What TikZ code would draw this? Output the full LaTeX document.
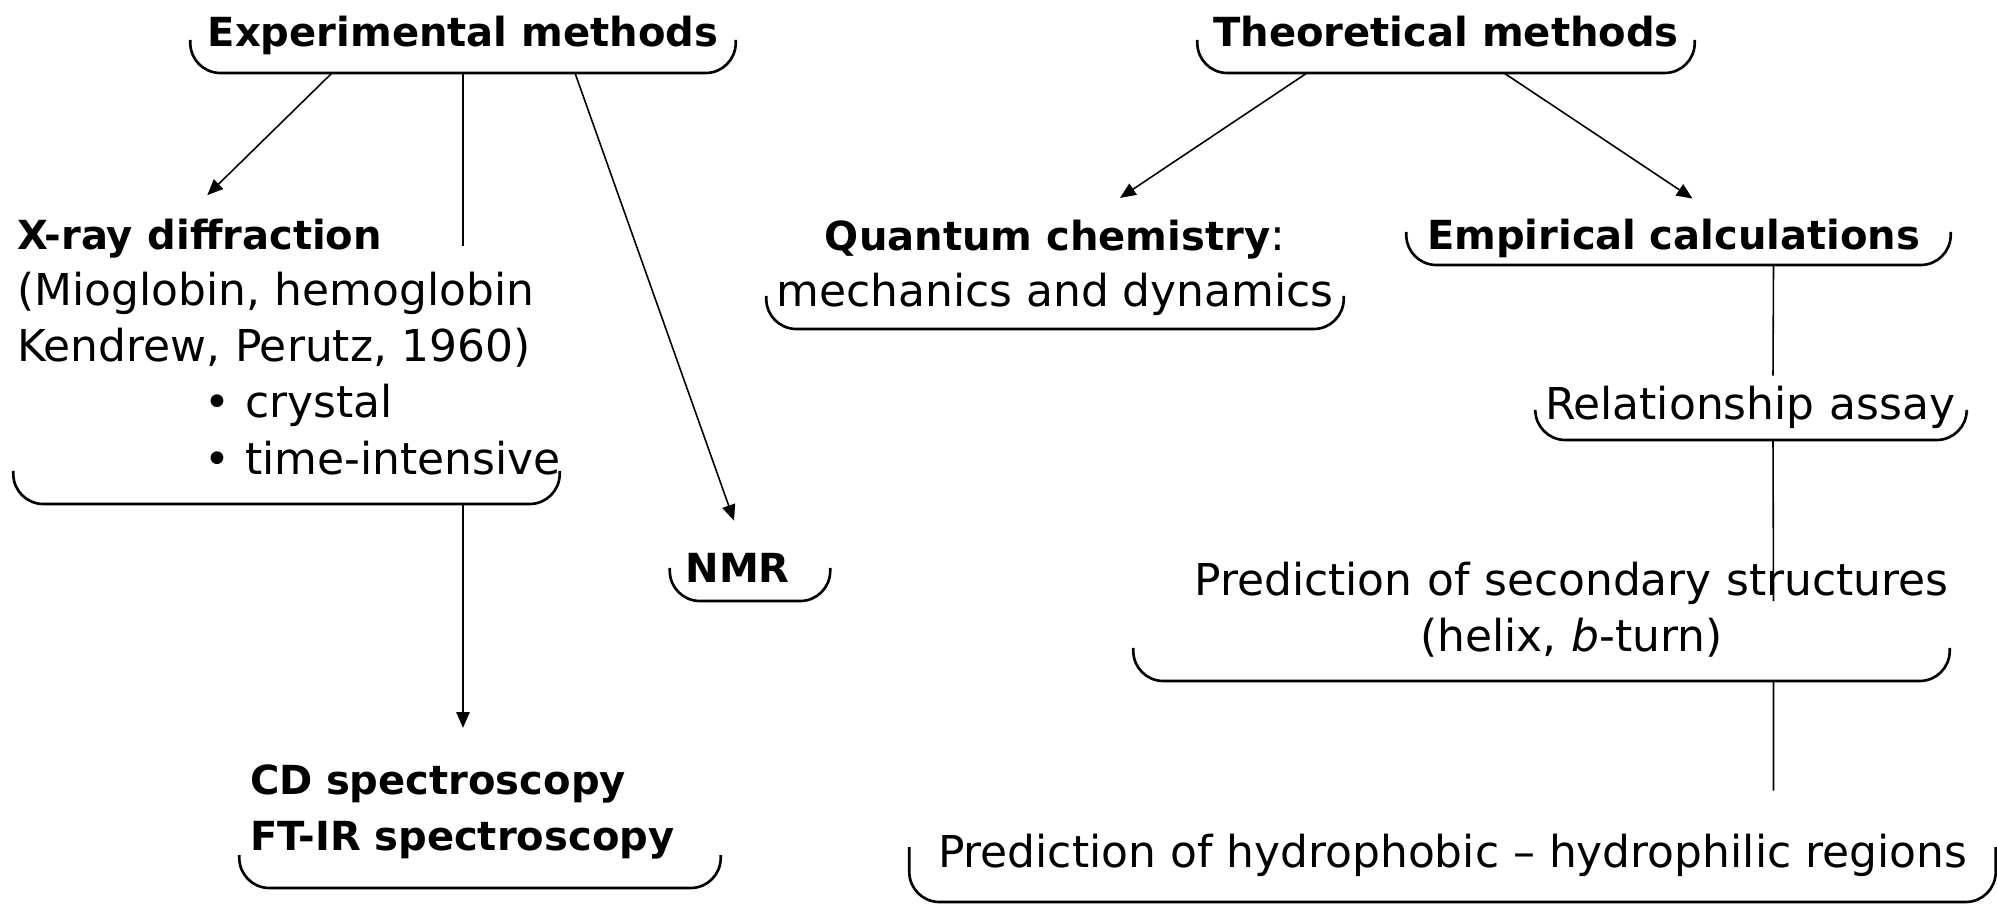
\documentclass[tikz,border=0pt]{standalone}
\usepackage{fontspec}
\setmainfont{DejaVu Sans}
\usetikzlibrary{arrows.meta,positioning,calc}
\newcommand{\bhead}{\fontsize{11.4pt}{16pt}\selectfont\bfseries}
\newcommand{\ubrace}[2][3.3mm]{\draw[brk] ([yshift=#1]#2.south west) -- (#2.south west) -- (#2.south east) -- ([yshift=#1]#2.south east);}

\begin{document}
\begin{tikzpicture}[
  font=\fontsize{12.5pt}{16pt}\selectfont,
  entry/.style={inner sep=0pt, anchor=south},
  brk/.style={line width=0.75pt, rounded corners=3mm},
  ln/.style={line width=0.45pt},
  ar/.style={ln, -{Triangle[length=4.5pt,width=3.8pt]}}
]
\useasboundingbox (0,0) rectangle (19.97,-9.04);
% experimental side
\node[entry, minimum width=5.44cm, text depth=2.6mm, font=\bhead] (exp) at (4.63,-0.73) {Experimental methods};
\node[entry, text width=5.39cm, inner xsep=0.3mm, align=left, text depth=25.4mm] (xray) at (2.865,-5.04)
  {{\bhead X-ray diffraction}\\(Mioglobin, hemoglobin\\Kendrew, Perutz, 1960)\\\mbox{\hspace*{1.88cm}• crystal}\\\mbox{\hspace*{1.88cm}• time-intensive}};
\node[entry, text width=4.60cm, inner xsep=1mm, align=left, text depth=9.3mm, font=\bhead] (cd) at (4.80,-8.88)
  {CD spectroscopy\\FT-IR spectroscopy};
\node[entry, text width=1.29cm, inner xsep=1.5mm, align=left, text height=6.1mm, text depth=1.8mm, font=\bhead] (nmr) at (7.50,-6.01) {NMR};
% theoretical side
\node[entry, minimum width=4.96cm, text depth=2.6mm, font=\bhead] (theo) at (14.46,-0.73) {Theoretical methods};
\node[entry, minimum width=5.76cm, align=center, text depth=2.2mm] (quant) at (10.55,-3.29)
  {{\bhead Quantum chemistry}:\\mechanics and dynamics};
\node[entry, text width=5.03cm, inner xsep=2mm, align=left, text height=5mm, text depth=1.5mm, font=\bhead] (emp) at (16.785,-2.65) {Empirical calculations};
\node[entry, text width=4.12cm, inner xsep=0.9mm, align=left, text height=4.3mm, text depth=2mm] (rel) at (17.51,-4.40) {Relationship assay};
\node[entry, text width=8.15cm, align=center, text depth=8.5mm] (sec) at (15.415,-6.81)
  {\hspace*{6mm}Prediction of secondary structures\\\hspace*{6mm}(helix, \textit{b}-turn)};
\node[entry, minimum width=10.85cm, text height=7.6mm, text depth=3.4mm] (hyd) at (14.525,-9.02)
  {Prediction of hydrophobic – hydrophilic regions};
% brackets
\ubrace{exp} \ubrace{xray} \ubrace{cd} \ubrace{nmr}
\ubrace{theo} \ubrace{quant} \ubrace{emp} \ubrace[2.7mm]{rel}
\ubrace{sec} \ubrace[5.5mm]{hyd}
% connectors
\draw[ar] ([xshift=-13.1mm]exp.south) -- ([xshift=19.4mm,yshift=2.3mm]xray.north west);
\draw[ln] (exp.south) -- ($(exp.south |- xray.north)+(0,-0.28)$);
\draw[ar] ([xshift=11.2mm]exp.south) -- ([xshift=-1.6mm]nmr.north);
\draw[ar] (exp.south |- xray.south) -- ($(exp.south |- cd.north)+(0,0.36)$);
\draw[ar] ([xshift=-13.9mm]theo.south) -- ($(quant.north)+(0.65,0.21)$);
\draw[ar] ([xshift=5.8mm]theo.south) -- ([xshift=1.4mm]emp.north);
\draw[ln] ([xshift=9.5mm]emp.south) -- ([xshift=2.2mm]rel.north);
\draw[ln] ([xshift=2.2mm]rel.south) -- ($(sec.north)+(2.32,-0.40)$);
\draw[ln] ([xshift=2.32cm]sec.south) -- ([xshift=3.21cm]hyd.north);
\end{tikzpicture}
\end{document}
